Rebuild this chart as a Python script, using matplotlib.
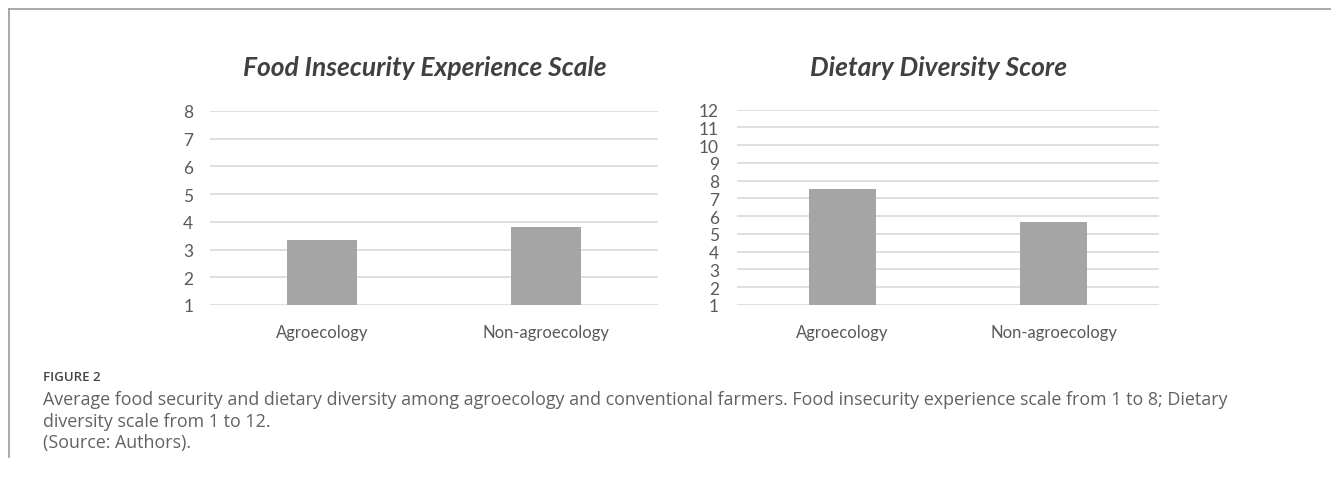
import matplotlib.pyplot as plt
from matplotlib.lines import Line2D

# average scores per farmer group
groups = ["Agroecology", "Non-agroecology"]
fies_scores = [3.34, 3.83]
dds_scores = [7.53, 5.69]

fies_ticks = list(range(1, 9))
dds_ticks = list(range(1, 13))

bar_color = "#a5a5a5"
grid_color = "#d9d9d9"
tick_color = "#595959"
title_color = "#404040"

W, H = 1331, 485

plt.rcParams["font.family"] = ["Lato", "DejaVu Sans"]

fig = plt.figure(figsize=(W / 100, H / 100), dpi=100)


def draw_panel(ax, values, ticks, bar_width, ypad):
    # bars start from the axis minimum, like the spreadsheet version
    base = ticks[0]
    heights = [v - base for v in values]
    ax.bar(range(len(groups)), heights, bottom=base, width=bar_width,
           color=bar_color, zorder=3)
    ax.set_xlim(-0.5, len(groups) - 0.5)
    ax.set_ylim(ticks[0], ticks[-1])
    ax.set_yticks(ticks)
    ax.set_xticks(range(len(groups)))
    ax.set_xticklabels(groups)
    ax.yaxis.grid(True, color=grid_color, linewidth=1.2, zorder=0)
    for s in ax.spines.values():
        s.set_visible(False)
    ax.tick_params(axis="y", length=0, labelsize=12.5,
                   labelcolor=tick_color, pad=ypad)
    ax.tick_params(axis="x", length=0, labelsize=12,
                   labelcolor=tick_color, pad=14)


ax1 = fig.add_axes([210 / W, 1 - 306 / H, 448 / W, 194 / H])
draw_panel(ax1, fies_scores, fies_ticks, 0.31, 12)

ax2 = fig.add_axes([737 / W, 1 - 306 / H, 422 / W, 195.3 / H])
draw_panel(ax2, dds_scores, dds_ticks, 0.32, 13)

# panel titles
fig.text(425 / W, 1 - 68 / H, "Food Insecurity Experience Scale",
         fontsize=19, fontweight="bold", fontstyle="italic",
         color=title_color, ha="center", va="center")
fig.text(939 / W, 1 - 68 / H, "Dietary Diversity Score",
         fontsize=19, fontweight="bold", fontstyle="italic",
         color=title_color, ha="center", va="center")

# figure box: top rule and left rule
fig.add_artist(Line2D([9 / W, 1], [1 - 10 / H, 1 - 10 / H],
                      color="#9a9a9a", linewidth=1.2))
fig.add_artist(Line2D([9 / W, 9 / W], [1 - 10 / H, 1 - 458 / H],
                      color="#9a9a9a", linewidth=1.2))

# caption block
cap = dict(fontsize=12.9, color="#626262", va="center",
           family=["Open Sans", "DejaVu Sans"])
fig.text(43 / W, 1 - 378 / H, "FIGURE 2", fontsize=9.5, fontweight="semibold",
         color="#444444", va="center", family=["Open Sans", "DejaVu Sans"])
fig.text(43 / W, 1 - 400 / H,
         "Average food security and dietary diversity among agroecology and "
         "conventional farmers. Food insecurity experience scale from 1 to 8; "
         "Dietary", **cap)
fig.text(43 / W, 1 - 422 / H, "diversity scale from 1 to 12.", **cap)
fig.text(43 / W, 1 - 443 / H, "(Source: Authors).", **cap)

fig.savefig("out.png", dpi=100, facecolor="white")
